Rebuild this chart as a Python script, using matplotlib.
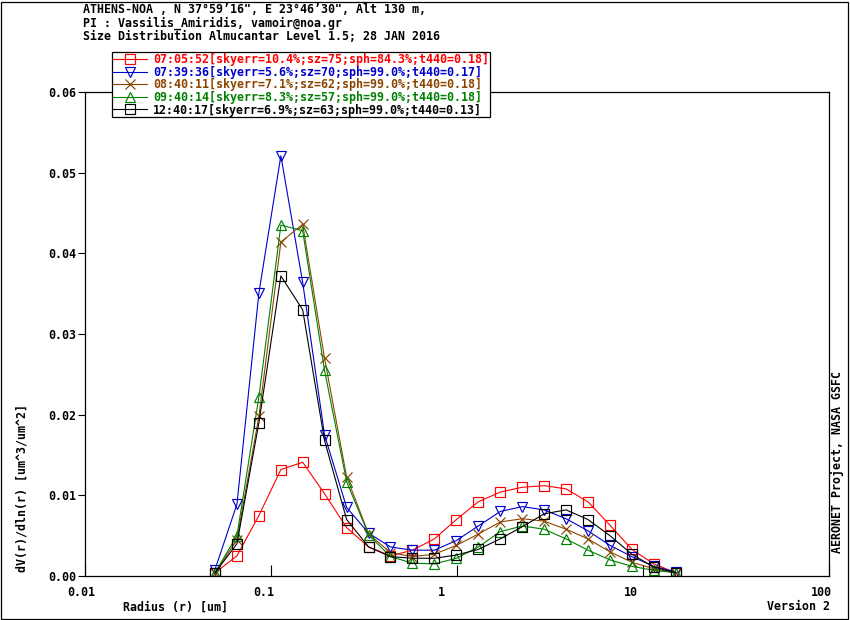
import matplotlib
matplotlib.use("Agg")
import matplotlib.pyplot as plt
from matplotlib.patches import Rectangle
from matplotlib.transforms import ScaledTranslation

# radius bins [um]
radius = [0.050, 0.0656, 0.0861, 0.113, 0.148, 0.194, 0.255, 0.335, 0.439, 0.576, 0.756,
          0.992, 1.302, 1.708, 2.241, 2.940, 3.857, 5.061, 6.641, 8.713, 11.432, 15.000]

# dV/dlnr for each almucantar
dv_0705 = [0.0004, 0.0025, 0.0075, 0.0132, 0.0141, 0.0102, 0.0060, 0.0036, 0.0025, 0.0032, 0.0046,
           0.0070, 0.0092, 0.0104, 0.0110, 0.0112, 0.0108, 0.0092, 0.0063, 0.0033, 0.0015, 0.0004]
dv_0739 = [0.0008, 0.0089, 0.0351, 0.0521, 0.0364, 0.0175, 0.0085, 0.0053, 0.0036, 0.0032, 0.0032,
           0.0044, 0.0062, 0.0080, 0.0086, 0.0082, 0.0071, 0.0056, 0.0038, 0.0024, 0.0012, 0.0005]
dv_0840 = [0.0004, 0.0045, 0.0198, 0.0414, 0.0436, 0.0270, 0.0123, 0.0052, 0.0029, 0.0024, 0.0027,
           0.0038, 0.0052, 0.0067, 0.0071, 0.0068, 0.0058, 0.0046, 0.0030, 0.0017, 0.0009, 0.0004]
dv_0940 = [0.0004, 0.0050, 0.0222, 0.0435, 0.0428, 0.0255, 0.0117, 0.0051, 0.0024, 0.0016, 0.0015,
           0.0022, 0.0036, 0.0055, 0.0062, 0.0058, 0.0046, 0.0032, 0.0020, 0.0012, 0.0007, 0.0004]
dv_1240 = [0.0004, 0.0040, 0.0190, 0.0372, 0.0330, 0.0168, 0.0070, 0.0036, 0.0024, 0.0022, 0.0022,
           0.0026, 0.0033, 0.0046, 0.0061, 0.0077, 0.0082, 0.0070, 0.0050, 0.0027, 0.0011, 0.0004]

labels = ["07:05:52[skyerr=10.4%;sz=75;sph=84.3%;t440=0.18]",
          "07:39:36[skyerr=5.6%;sz=70;sph=99.0%;t440=0.17]",
          "08:40:11[skyerr=7.1%;sz=62;sph=99.0%;t440=0.18]",
          "09:40:14[skyerr=8.3%;sz=57;sph=99.0%;t440=0.18]",
          "12:40:17[skyerr=6.9%;sz=63;sph=99.0%;t440=0.13]"]
series = [dv_0705, dv_0739, dv_0840, dv_0940, dv_1240]
colors = ["#ff0000", "#0000cc", "#8b4500", "#008000", "#000000"]
markers = ["s", "v", "x", "^", "s"]

xticks = [0.01, 0.1, 1, 10, 100]
xticklabels = ["0.01", "0.1", "1", "10", "100"]
yticks = [0.0, 0.01, 0.02, 0.03, 0.04, 0.05, 0.06]

W, H = 850, 620
FONT = "DejaVu Sans Mono"
FS = 8.4
plt.rcParams["font.family"] = FONT
plt.rcParams["font.weight"] = "bold"
plt.rcParams["font.size"] = FS

fig = plt.figure(figsize=(W / 100, H / 100), dpi=100)
ax = fig.add_axes([85 / W, 1 - 576 / H, (829 - 85) / W, (576 - 92) / H])


def px(x, y):
    return x / W, 1 - y / H


handles = []
for vals, col, mk, lab in zip(series, colors, markers, labels):
    ms = 7 if mk in ("v", "^", "x") else 7.2
    h, = ax.plot(radius, vals, color=col, lw=0.8, marker=mk, ms=ms,
                 mfc="none", mec=col, mew=0.85, label=lab)
    handles.append(h)

ax.set_xscale("log")
ax.set_xlim(0.01, 100)
ax.set_ylim(0, 0.06)
ax.set_xticks(xticks)
ax.set_xticklabels(xticklabels)
ax.minorticks_off()
ax.set_yticks(yticks)
ax.set_yticklabels(["%.2f" % v for v in yticks])
ax.tick_params(axis="x", direction="in", length=8, width=0.8, pad=7)
ax.tick_params(axis="y", direction="out", length=5, width=0.8, pad=1.5)
for s in ax.spines.values():
    s.set_linewidth(0.9)

# the x labels sit a bit left of their ticks
for lbl, off in zip(ax.get_xticklabels(), [-4, -7, -16, -12, -8]):
    lbl.set_transform(lbl.get_transform() + ScaledTranslation(off / 100, 0, fig.dpi_scale_trans))

fig.text(*px(83, 9.5), "ATHENS-NOA , N 37°59’16\", E 23°46’30\", Alt 130 m,", va="center", ha="left")
fig.text(*px(83, 23), "PI : Vassilis_Amiridis, vamoir@noa.gr", va="center", ha="left")
fig.text(*px(83, 36.5), "Size Distribution Almucantar Level 1.5; 28 JAN 2016", va="center", ha="left")

fig.text(*px(22, 488), "dV(r)/dln(r) [um^3/um^2]", rotation=90, ha="center", va="center")
fig.text(*px(123, 607), "Radius (r) [um]", ha="left", va="center")
fig.text(*px(830, 607), "Version 2", ha="right", va="center")
fig.text(*px(837, 553), "AERONET Project, NASA GSFC", rotation=90, ha="center", va="bottom")

leg = fig.legend(handles=handles, loc="upper left", bbox_to_anchor=px(112, 52),
                 frameon=True, fancybox=False, edgecolor="black", framealpha=1,
                 handlelength=2.9, handletextpad=0.55, labelspacing=-0.03,
                 borderpad=0.08, borderaxespad=0, fontsize=FS)
leg.get_frame().set_linewidth(0.9)
for txt, col in zip(leg.get_texts(), colors):
    txt.set_color(col)

fig.add_artist(Rectangle((0.6 / W, 0.6 / H), 1 - 2.2 / W, 1 - 2.2 / H, transform=fig.transFigure,
                         fill=False, ec="black", lw=0.9))

fig.savefig("out.png", dpi=100)
